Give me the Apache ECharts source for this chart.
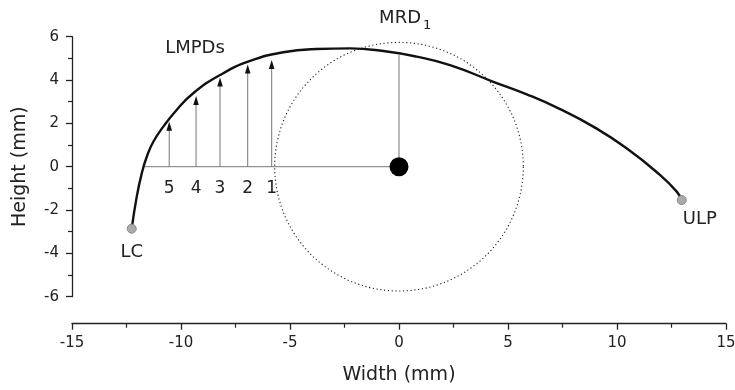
<!DOCTYPE html>
<html>
<head>
<meta charset="utf-8">
<script src="https://cdn.jsdelivr.net/npm/echarts@6/dist/echarts.min.js"></script>
<style>html,body{margin:0;padding:0;background:#fff;}#chart{width:735px;height:390px;}</style>
</head>
<body>
<div id="chart"></div>
<script>
// Curve (LC -> ULP)
const curveX = [-12.26, -12.03, -11.80, -11.57, -11.27, -10.81, -10.20, -9.44, -8.21, -6.83, -5.31, -3.78, -2.25, -0.72, 0.81, 2.34, 4.33, 5.86, 7.39, 8.91, 10.44, 11.97, 12.74, 12.97];
const curveY = [-2.86, -1.38, -0.31, 0.46, 1.15, 1.85, 2.62, 3.39, 4.23, 4.88, 5.28, 5.43, 5.46, 5.34, 5.08, 4.69, 3.92, 3.34, 2.66, 1.85, 0.85, -0.38, -1.15, -1.54];
// End points
const endNames = ['LC', 'ULP'];
const endX = [-12.26, 12.97];
const endY = [-2.86, -1.54];
// LMPD arrows
const arrowLabels = ['5', '4', '3', '2', '1'];
const arrowX = [-10.54, -9.31, -8.21, -6.94, -5.84];
const arrowTipY = [2.08, 3.26, 4.12, 4.72, 4.92];
// Centre, MRD circle
const centerX = 0, centerY = 0;
const circleRadius = 5.72;
const baseLineStartX = -11.65;
const mrdTopY = 5.15;

const chart = echarts.init(document.getElementById('chart'), null, {renderer: 'canvas'});
const txt = '#222';
const fontFamily = 'DejaVu Sans, sans-serif';

const option = {
  animation: false,
  backgroundColor: '#fff',
  textStyle: {fontFamily: fontFamily},
  grid: {left: 72, right: 9, top: 36.7, bottom: 93.3, containLabel: false, outerBoundsMode: 'none'},
  xAxis: {
    type: 'value', min: -15, max: 15, interval: 5, offset: 27,
    axisLine: {show: true, onZero: false, lineStyle: {color: '#222', width: 1.3}},
    axisTick: {show: true, inside: false, length: 6, lineStyle: {color: '#222', width: 1.3}},
    minorTick: {show: true, splitNumber: 2, length: 4, lineStyle: {color: '#222', width: 1.2}},
    splitLine: {show: false},
    axisLabel: {fontSize: 15, color: txt, margin: 12, fontFamily: fontFamily},
    name: 'Width (mm)', nameLocation: 'middle', nameGap: 42,
    nameTextStyle: {fontSize: 19, color: txt, fontFamily: fontFamily}
  },
  yAxis: {
    type: 'value', min: -6, max: 6, interval: 2,
    axisLine: {show: true, onZero: false, lineStyle: {color: '#222', width: 1.3}},
    axisTick: {show: true, inside: false, length: 6, lineStyle: {color: '#222', width: 1.3}},
    minorTick: {show: true, splitNumber: 2, length: 4, lineStyle: {color: '#222', width: 1.2}},
    splitLine: {show: false},
    axisLabel: {fontSize: 15, color: txt, margin: 13, fontFamily: fontFamily},
    name: 'Height (mm)', nameLocation: 'middle', nameGap: 42,
    nameTextStyle: {fontSize: 19, color: txt, fontFamily: fontFamily}
  },
  graphic: [
    {type: 'text', style: {x: 195, y: 48.5, text: 'LMPDs', textAlign: 'center', textVerticalAlign: 'middle', fontSize: 18, fill: txt, fontFamily: fontFamily}},
    {type: 'text', style: {x: 421, y: 18.5, text: 'MRD', textAlign: 'right', textVerticalAlign: 'middle', fontSize: 18, fill: txt, fontFamily: fontFamily}},
    {type: 'text', style: {x: 423, y: 25.5, text: '1', textAlign: 'left', textVerticalAlign: 'middle', fontSize: 13, fill: txt, fontFamily: fontFamily}}
  ],
  series: [
    {
      type: 'custom', name: 'circle', silent: true, z: 1,
      data: [[centerX, centerY, circleRadius]],
      renderItem: function (params, api) {
        const c = api.coord([api.value(0), api.value(1)]);
        const s = api.size([api.value(2), api.value(2)]);
        const r = (s[0] + s[1]) / 2;
        return {type: 'circle', shape: {cx: c[0], cy: c[1], r: r},
          style: {fill: null, stroke: '#222', lineWidth: 1.1, lineDash: [1.2, 2.6]}};
      }
    },
    {
      type: 'line', name: 'base', silent: true, z: 2, symbol: 'none',
      data: [[baseLineStartX, centerY], [centerX, centerY]],
      lineStyle: {color: '#777', width: 1}
    },
    {
      type: 'line', name: 'mrd', silent: true, z: 2, symbol: 'none',
      data: [[centerX, centerY], [centerX, mrdTopY]],
      lineStyle: {color: '#777', width: 1}
    },
    {
      type: 'custom', name: 'arrows', silent: true, z: 3,
      data: arrowX.map((x, i) => [x, arrowTipY[i]]),
      renderItem: function (params, api) {
        const x = api.value(0), tip = api.value(1);
        const base = api.coord([x, 0]);
        const top = api.coord([x, tip]);
        const ah = 9, aw = 2.8;
        return {type: 'group', children: [
          {type: 'line', shape: {x1: base[0], y1: base[1], x2: top[0], y2: top[1] + ah - 1},
            style: {stroke: '#777', lineWidth: 1}},
          {type: 'polygon', shape: {points: [[top[0], top[1]], [top[0] - aw, top[1] + ah], [top[0] + aw, top[1] + ah]]},
            style: {fill: '#111'}},
          {type: 'text', style: {text: arrowLabels[params.dataIndex], x: base[0], y: base[1] + 22,
            textAlign: 'center', textVerticalAlign: 'middle', fontSize: 17, fill: txt, fontFamily: fontFamily}}
        ]};
      }
    },
    {
      type: 'line', name: 'curve', silent: true, z: 4, symbol: 'none',
      smooth: 0.5,
      data: curveX.map((x, i) => [x, curveY[i]]),
      lineStyle: {color: '#111', width: 2.4}
    },
    {
      type: 'scatter', name: 'center', silent: true, z: 5,
      data: [[centerX, centerY]], symbol: 'circle', symbolSize: 19,
      itemStyle: {color: '#000', opacity: 1}
    },
    {
      type: 'scatter', name: 'ends', silent: true, z: 5,
      data: endX.map((x, i) => ({value: [x, endY[i]], name: endNames[i],
        label: i === 0 ? {position: 'bottom', distance: 10, offset: [0, 0]} : {position: 'bottom', distance: 5, offset: [18, 0]}})),
      symbol: 'circle', symbolSize: 9,
      itemStyle: {color: '#aaa', borderColor: '#888', borderWidth: 1, opacity: 1},
      label: {show: true, formatter: '{b}', fontSize: 18, color: txt, fontFamily: fontFamily}
    }
  ]
};
chart.setOption(option);
</script>
</body>
</html>
